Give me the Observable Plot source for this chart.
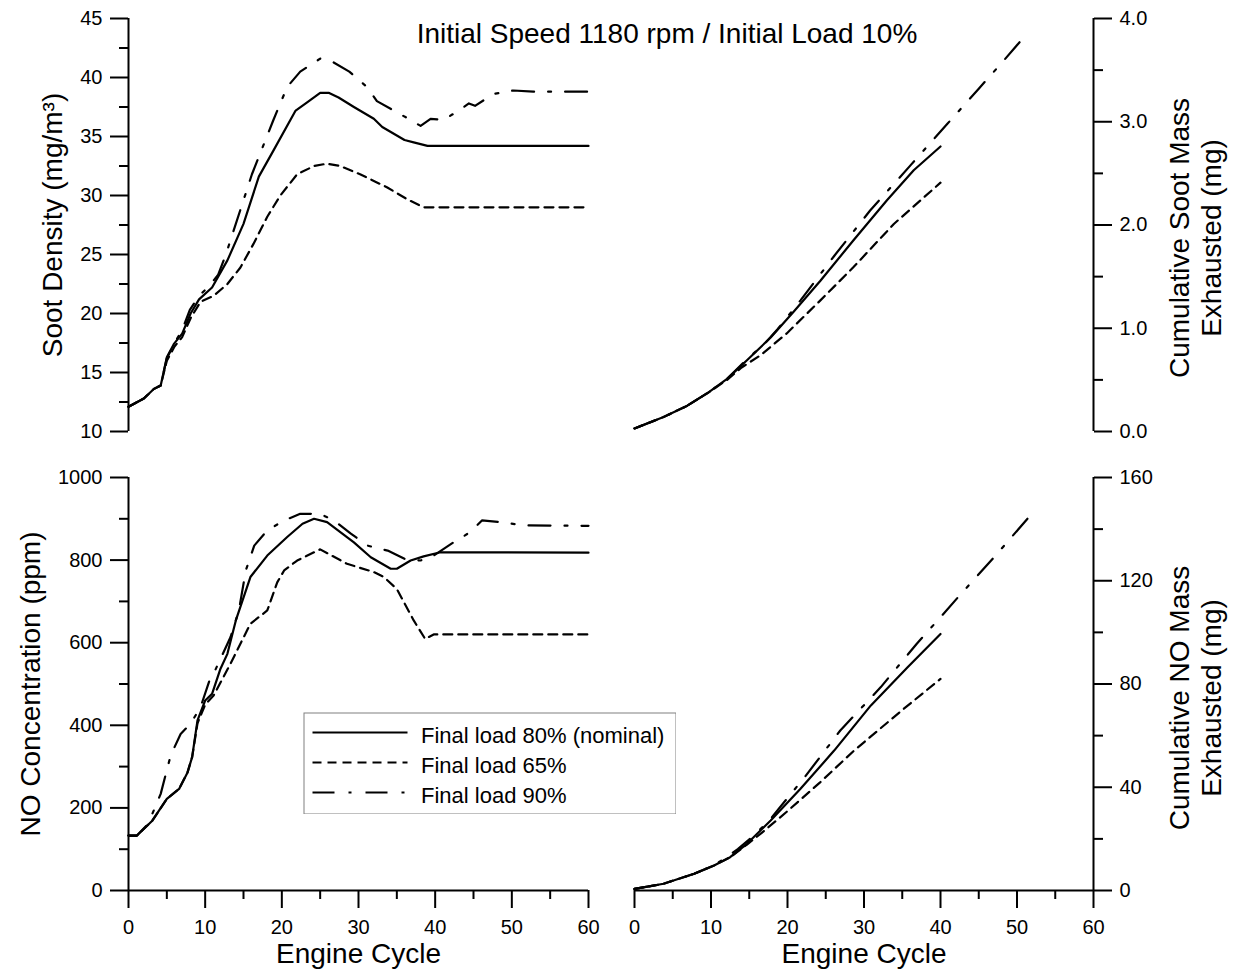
<!DOCTYPE html>
<html>
<head>
<meta charset="utf-8">
<script src="https://cdn.jsdelivr.net/npm/d3@7"></script>
<script src="https://cdn.jsdelivr.net/npm/@observablehq/plot@0.6"></script>
<style>
  body { margin: 0; background: #fff; font-family: "Liberation Sans", Arial, sans-serif; }
  #wrap { position: relative; width: 1239px; height: 977px; overflow: hidden; background: #fff; }
  .pane { position: absolute; }
  #title { position: absolute; left: 367px; width: 600px; top: 18px; text-align: center;
           font-size: 28px; line-height: 32px; color: #000; white-space: nowrap; }
</style>
</head>
<body>
<div id="wrap">
  <div id="title">Initial Speed 1180 rpm / Initial Load 10%</div>
</div>
<script>
// ---------- Data: soot density (mg/m3) ----------
const sootCycle80 = [0,2,3.3,4.2,5,5.9,7,8.1,9.2,10.9,12.9,15,17,18.9,21.8,23.3,25,26.1,27.4,29.4,32,33.1,36,37.2,39,60];
const soot80      = [12.1,12.8,13.6,13.9,16.3,17.4,18.3,20.0,21.2,22.2,24.5,27.6,31.6,33.8,37.2,37.9,38.7,38.7,38.3,37.5,36.5,35.8,34.7,34.5,34.2,34.2];
const sootCycle65 = [0,2,3.3,4.2,5,6,7,8.1,9.4,11.1,12.9,14.6,16.3,18.1,19.8,22,24.2,25.9,27.6,30.2,33.7,36.3,38.5,60];
const soot65      = [12.1,12.8,13.6,13.9,16.0,17.2,18.0,19.6,21.0,21.5,22.5,23.9,25.9,28.2,30.0,31.8,32.5,32.7,32.5,31.8,30.7,29.7,29.0,29.0];
const sootCycle90 = [0,2,3.3,4.2,5,6,7,8,9.2,10.5,11.7,12.7,13.7,16.1,18.9,20.7,22.4,25,26.7,28.8,31.1,32.4,34.6,36.8,38.1,39.4,41.1,43.3,44.4,45.2,47.6,50.2,52.8,60];
const soot90      = [12.1,12.8,13.6,13.9,16.2,17.5,18.6,20.3,21.5,22.3,23.3,25.0,27.0,31.8,36.4,39.2,40.5,41.6,41.3,40.5,39.2,38.0,37.2,36.4,35.9,36.5,36.4,37.3,37.8,37.6,38.6,38.9,38.8,38.8];

// ---------- Data: cumulative soot mass (mg) ----------
const cumSootCycle80 = [0,3.8,6.9,9.5,12.1,14.7,17.8,20.8,24.3,28.6,33,36.5,40];
const cumSoot80      = [0.03,0.14,0.25,0.37,0.51,0.69,0.91,1.16,1.46,1.85,2.24,2.53,2.76];
const cumSootCycle65 = [0,3.8,6.9,9.5,12.1,14.0,16.5,19.9,24.3,28.6,33.9,40];
const cumSoot65      = [0.03,0.14,0.25,0.37,0.50,0.62,0.74,0.95,1.27,1.59,2.01,2.41];
const cumSootCycle90 = [0,3.8,6.9,9.5,12.1,14.7,17,18.7,21.7,26.1,30.8,36.1,40.9,45,48,51.5];
const cumSoot90      = [0.03,0.14,0.25,0.37,0.51,0.70,0.85,0.99,1.27,1.70,2.14,2.58,2.98,3.32,3.57,3.87];

// ---------- Data: NO concentration (ppm) ----------
const noCycle80 = [0,1.1,3.1,5,6.6,7.7,8.3,9,10,10.9,12,12.9,14,15.9,18.1,20.7,22.7,24.2,25.9,29.4,31.6,34.2,35,36.8,38.5,40.7,60];
const no80      = [133,133,169,222,246,286,323,412,460,476,537,573,654,759,811,856,888,900,892,843,807,779,779,799,809,819,818];
const noCycle65 = [0,1.1,3.1,5,6.6,7.7,8.3,9,10,11.1,13.3,15.9,18.1,19.4,20.3,22,25,28.5,32,33.3,35,37.2,38.7,39.8,60];
const no65      = [133,133,169,222,246,286,323,405,450,472,549,646,678,746,775,799,826,791,771,759,730,654,609,620,620];
const noCycle90 = [0,1.1,2.5,3.3,4.2,5.5,6.8,8.1,9.4,10.7,11.3,13.3,14.4,15.3,16.4,18.1,20.3,22.4,25,26.8,29,31.2,33.8,36,38.1,39.8,42.4,44.6,46.1,48.5,51.6,60];
const no90      = [133,133,160,194,234,327,379,404,444,516,533,613,678,775,835,872,896,912,912,896,864,835,823,803,799,811,843,868,896,892,884,883];

// ---------- Data: cumulative NO mass (mg) ----------
const cumNoCycle80 = [0,3.8,7.8,10.4,12.5,14.7,17.8,21.7,26.1,30.9,35.7,40];
const cumNo80      = [0.6,2.6,6.5,9.7,12.9,18.1,27.1,39.4,54.2,71.7,86.5,99.4];
const cumNoCycle65 = [0,3.8,7.8,10.4,12.5,14.7,16.5,19.9,24.3,28.7,35.2,40];
const cumNo65      = [0.6,2.6,6.5,9.7,12.9,17.8,22.0,30.5,42.0,54.2,70.4,82.0];
const cumNoCycle90 = [0,3.8,7.8,10.4,11.7,13.5,15.6,17.6,22.4,26.9,32.2,36.9,40,42.2,47,52.3];
const cumNo90      = [0.6,2.6,6.5,9.7,12.3,16.0,21.3,27.1,44.5,62.0,78.8,95.6,105.9,113.3,129.1,147.2];

// ---------- Series / ticks ----------
const seriesNames = ["Final load 80% (nominal)", "Final load 65%", "Final load 90%"];
const xMajor = [0,10,20,30,40,50,60];
const xMinor = [5,15,25,35,45,55];
const sootMajor = [10,15,20,25,30,35,40,45];
const sootMinor = [12.5,17.5,22.5,27.5,32.5,37.5,42.5];
const cumSootMajor = [0,1,2,3,4];
const cumSootMinor = [0.5,1.5,2.5,3.5];
const noMajor = [0,200,400,600,800,1000];
const noMinor = [100,300,500,700,900];
const cumNoMajor = [0,40,80,120,160];
const cumNoMinor = [20,60,100,140];

// ---------- Styles ----------
const dashes = [null, "9,6", "22,14,3,14"];
const LW = 2.2;
const FONT = "'Liberation Sans', Arial, Helvetica, sans-serif";
const pts = (xs, ys) => xs.map((c, i) => ({c, v: ys[i]}));

function lines(sets) {
  return sets.map(([xs, ys], i) =>
    Plot.line(pts(xs, ys), {x: "c", y: "v", stroke: "#000", strokeWidth: LW,
      strokeDasharray: dashes[i] || undefined, strokeLinejoin: "round"}));
}

function yAxes(anchor, major, minor, fmt) {
  return [
    Plot.axisY(minor, {anchor, tickSize: 9, strokeWidth: 2, tickFormat: () => "", label: null}),
    Plot.axisY(major, {anchor, tickSize: 18, tickPadding: 8, strokeWidth: 2, fontSize: 20,
      tickFormat: fmt, label: null})
  ];
}
function xAxes() {
  return [
    Plot.axisX(xMinor, {anchor: "bottom", tickSize: 9, strokeWidth: 2, tickFormat: () => "", label: null}),
    Plot.axisX(xMajor, {anchor: "bottom", tickSize: 18, tickPadding: 11, strokeWidth: 2, fontSize: 20,
      tickFormat: d3.format("d"), label: null})
  ];
}

function place(plot, left, top) {
  const d = document.createElement("div");
  d.className = "pane";
  d.style.left = left + "px";
  d.style.top = top + "px";
  d.appendChild(plot);
  document.getElementById("wrap").appendChild(d);
}

const common = (o) => Object.assign({
  style: {background: "transparent", color: "#000", fontFamily: FONT, overflow: "visible"},
}, o);

const labelOpts = {rotate: -90, fontSize: 28, fill: "#000", textAnchor: "middle", lineAnchor: "middle"};

// ---- Top-left: soot density
place(Plot.plot(common({
  width: 620, height: 440, marginLeft: 128, marginRight: 32, marginTop: 18, marginBottom: 9,
  x: {domain: [0, 60], axis: null},
  y: {domain: [10, 45]},
  marks: [
    ...yAxes("left", sootMajor, sootMinor, d3.format("d")),
    Plot.ruleX([0], {stroke: "#000", strokeWidth: 2}),
    ...lines([[sootCycle80, soot80], [sootCycle65, soot65], [sootCycle90, soot90]]),
    Plot.text(["Soot Density (mg/m³)"], {...labelOpts, frameAnchor: "left", dx: -75})
  ]
})), 0, 0);

// ---- Top-right: cumulative soot
place(Plot.plot(common({
  width: 639, height: 440, marginLeft: 34, marginRight: 146, marginTop: 18, marginBottom: 9,
  x: {domain: [0, 60], axis: null},
  y: {domain: [0, 4]},
  marks: [
    ...yAxes("right", cumSootMajor, cumSootMinor, d3.format(".1f")),
    Plot.ruleX([60], {stroke: "#000", strokeWidth: 2}),
    ...lines([[cumSootCycle80, cumSoot80], [cumSootCycle65, cumSoot65], [cumSootCycle90, cumSoot90]]),
    Plot.text(["Cumulative Soot Mass\nExhausted (mg)"], {...labelOpts, frameAnchor: "right", dx: 101, dy: 13,
      lineHeight: 1.14})
  ]
})), 600, 0);

// ---- Bottom-left: NO concentration
place(Plot.plot(common({
  width: 620, height: 537, marginLeft: 128, marginRight: 32, marginTop: 37, marginBottom: 87,
  x: {domain: [0, 60]},
  y: {domain: [0, 1000]},
  marks: [
    ...yAxes("left", noMajor, noMinor, d3.format("d")),
    ...xAxes(),
    Plot.ruleX([0], {stroke: "#000", strokeWidth: 2}),
    Plot.ruleY([0], {stroke: "#000", strokeWidth: 2}),
    ...lines([[noCycle80, no80], [noCycle65, no65], [noCycle90, no90]]),
    Plot.text(["NO Concentration (ppm)"], {...labelOpts, frameAnchor: "left", dx: -97}),
    Plot.text(["Engine Cycle"], {frameAnchor: "bottom", dy: 64, fontSize: 28, fill: "#000",
      textAnchor: "middle", lineAnchor: "middle"})
  ]
})), 0, 440);

// ---- Bottom-right: cumulative NO
place(Plot.plot(common({
  width: 639, height: 537, marginLeft: 34, marginRight: 146, marginTop: 37, marginBottom: 87,
  x: {domain: [0, 60]},
  y: {domain: [0, 160]},
  marks: [
    ...yAxes("right", cumNoMajor, cumNoMinor, d3.format("d")),
    ...xAxes(),
    Plot.ruleX([60], {stroke: "#000", strokeWidth: 2}),
    Plot.ruleY([0], {stroke: "#000", strokeWidth: 2}),
    ...lines([[cumNoCycle80, cumNo80], [cumNoCycle65, cumNo65], [cumNoCycle90, cumNo90]]),
    Plot.text(["Cumulative NO Mass\nExhausted (mg)"], {...labelOpts, frameAnchor: "right", dx: 101, dy: 14,
      lineHeight: 1.14}),
    Plot.text(["Engine Cycle"], {frameAnchor: "bottom", dy: 64, fontSize: 28, fill: "#000",
      textAnchor: "middle", lineAnchor: "middle"})
  ]
})), 600, 440);

// ---- Legend
place(Plot.plot({
  width: 373, height: 102, marginLeft: 0.5, marginTop: 0.5, marginRight: 0.5, marginBottom: 0.5,
  style: {background: "#fff", color: "#000", fontFamily: FONT},
  x: {axis: null, domain: [0, 1]},
  y: {type: "point", domain: seriesNames, range: [20, 80.5], padding: 0, axis: null},
  marks: [
    Plot.frame({stroke: "#808080", strokeWidth: 1}),
    ...seriesNames.map((n, i) => Plot.ruleY([n], {y: d => d, insetLeft: 9, insetRight: 268,
      stroke: "#000", strokeWidth: LW, strokeDasharray: dashes[i] || undefined})),
    Plot.text(seriesNames, {y: d => d, frameAnchor: "left", dx: 117, dy: 3, textAnchor: "start",
      lineAnchor: "middle", fontSize: 22, fill: "#000"})
  ]
}), 303, 712);
</script>
</body>
</html>
